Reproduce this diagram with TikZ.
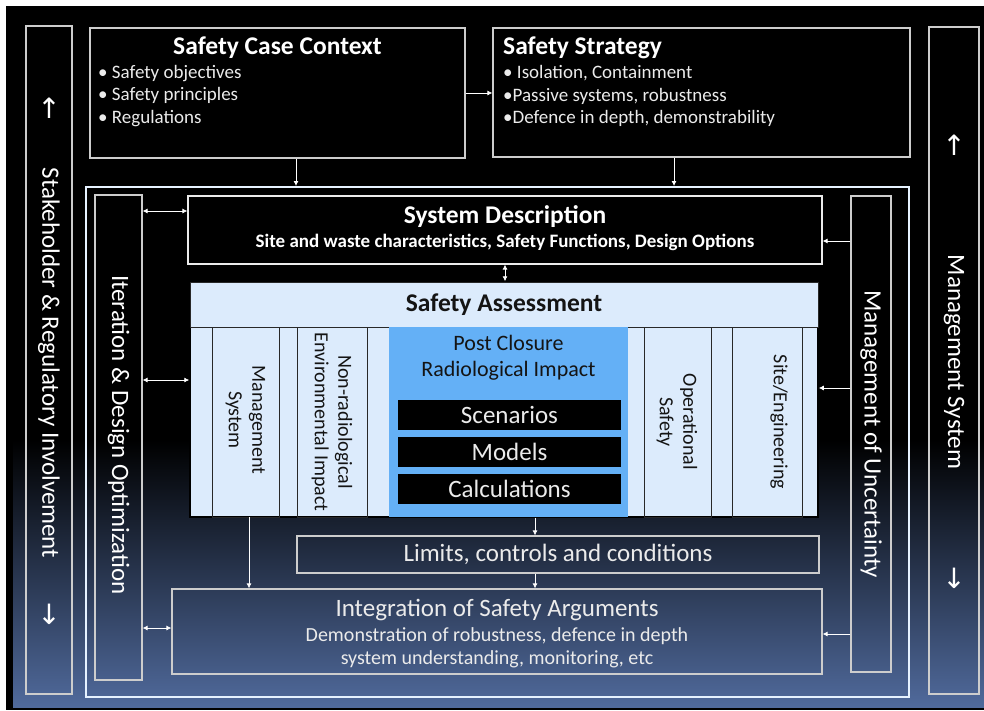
\documentclass[tikz,border=0pt]{standalone}
\usepackage{fontspec}
\setmainfont{Carlito}
\newfontfamily\arrowfont{DejaVu Sans}
\usetikzlibrary{arrows.meta}
\definecolor{bgblue}{RGB}{80,106,156}
\definecolor{saband}{RGB}{220,235,252}
\definecolor{sablue}{RGB}{100,176,246}
\definecolor{boxline}{RGB}{205,205,205}
\definecolor{frameline}{RGB}{230,242,255}
\definecolor{sepline}{RGB}{40,40,40}
\definecolor{sadark}{RGB}{20,20,20}
\definecolor{softwhite}{RGB}{235,235,235}

\begin{document}
\begin{tikzpicture}[x=1pt,y=-1pt,
    box/.style={draw=boxline, line width=1.2pt, inner sep=0pt},
    col/.style={draw=sepline, line width=0.8pt, inner sep=0pt, minimum height=190pt},
    titletext/.style={font=\fontsize{25.5}{30}\selectfont\bfseries, text=white, inner sep=0pt},
    bodytext/.style={font=\fontsize{19}{22.5}\selectfont, align=left, text=softwhite, inner sep=0pt},
    coltext/.style={font=\fontsize{25}{30}\selectfont, text=white, rotate=-90, inner sep=0pt},
    innertext/.style={font=\fontsize{20}{23.5}\selectfont, text=sadark, rotate=-90, align=center, inner sep=0pt},
    arrowtext/.style={font=\arrowfont\fontsize{28}{32}\selectfont, text=white, inner sep=0pt},
    blackbox/.style={fill=black, minimum width=223pt, minimum height=30pt, inner sep=0pt,
      font=\fontsize{25}{30}\selectfont, text=softwhite},
    arr/.style={-{Latex[length=5pt,width=5pt]}, white, line width=0.8pt},
    arrr/.style={{Latex[length=5pt,width=5pt]}-{Latex[length=5pt,width=5pt]}, white, line width=0.8pt}]

  \useasboundingbox (0,0) rectangle (984,710);
  % slide background
  \fill[white] (0,0) rectangle (984,710);
  \fill[black] (6,6) rectangle (984,710);
  \shade[top color=black, bottom color=bgblue] (13,440) rectangle (984,707);

  % outer columns
  \node[box, minimum width=46pt, minimum height=668pt] (stake) at (49,360) {};
  \node[coltext] (staketext) at (49,363) {Stakeholder \& Regulatory Involvement};
  \node[arrowtext] (stakeup) at (49,108) {↑};
  \node[arrowtext] (stakedown) at (49,614) {↓};

  \node[box, minimum width=50pt, minimum height=667pt] (mgmt) at (954,360.5) {};
  \node[coltext] (mgmttext) at (954,362) {Management System};
  \node[arrowtext] (mgmtup) at (954,145) {↑};
  \node[arrowtext] (mgmtdown) at (954,578) {↓};

  % top boxes
  \node[box, minimum width=375pt, minimum height=130pt] (scc) at (277.5,93) {};
  \node[titletext] (scctitle) at (277.5,48) {Safety Case Context};
  \node[bodytext, anchor=west] (sccbody) at (98,96)
    {• Safety objectives\\• Safety principles\\• Regulations};

  \node[box, minimum width=417pt, minimum height=129pt] (strat) at (701.5,92.5) {};
  \node[titletext, anchor=west] (strattitle) at (503,48) {Safety Strategy};
  \node[bodytext, anchor=west] (stratbody) at (503,96)
    {• Isolation, Containment\\•Passive systems, robustness\\•Defence in depth, demonstrability};

  % main frame
  \node[draw=frameline, line width=2pt, minimum width=823pt, minimum height=510pt, inner sep=0pt] (frame) at (497.5,442) {};

  \node[box, minimum width=47pt, minimum height=485pt] (iter) at (118.5,437.5) {};
  \node[coltext] (itertext) at (118.5,435) {Iteration \& Design Optimization};

  \node[box, minimum width=40pt, minimum height=476pt] (unc) at (871,434) {};
  \node[coltext] (unctext) at (871,434) {Management of Uncertainty};

  % system description
  \node[box, draw=softwhite, minimum width=634pt, minimum height=68pt] (sd) at (505,230) {};
  \node[titletext] (sdtitle) at (505,217) {System Description};
  \node[bodytext, font=\fontsize{19}{22.5}\selectfont\bfseries, text=white] (sdbody) at (505,242)
    {Site and waste characteristics, Safety Functions, Design Options};

  % safety assessment
  \node[fill=saband, draw=black, line width=1.5pt, minimum width=628pt, minimum height=235pt, inner sep=0pt] (sa) at (504,399.5) {};
  \node[fill=saband, draw=sepline, line width=0.8pt, minimum width=628pt, minimum height=45pt, inner sep=0pt] (sahead) at (504,304.5) {};
  \node[titletext, text=sadark] (satitle) at (504,305) {Safety Assessment};
  \node[fill=sablue, minimum width=239pt, minimum height=190pt, inner sep=0pt] (pcri) at (508.5,422) {};
  \node[col, minimum width=67pt] (colms) at (245.5,422) {};
  \node[col, minimum width=70pt] (colnr) at (332,422) {};
  \node[col, minimum width=67pt] (colop) at (677.5,422) {};
  \node[col, minimum width=70pt] (colsite) at (767,422) {};
  \node[innertext] (colmstext) at (245.5,420) {Management\\System};
  \node[innertext] (colnrtext) at (332,422) {Non-radiological\\Environmental Impact};
  \node[innertext] (coloptext) at (677,422) {Operational\\Safety};
  \node[innertext] (colsitetext) at (779,422) {Site/Engineering};

  \node[font=\fontsize{22}{26}\selectfont, text=sadark, align=center, inner sep=0pt] (pcritext) at (508.5,358)
    {Post Closure\\Radiological Impact};
  \node[blackbox] (scen) at (509.5,415) {Scenarios};
  \node[blackbox] (models) at (509.5,452) {Models};
  \node[blackbox] (calc) at (509.5,488.5) {Calculations};

  % limits and integration
  \node[box, minimum width=522pt, minimum height=37pt, font=\fontsize{25}{30}\selectfont, text=softwhite] (lim) at (558,554.5)
    {Limits, controls and conditions};
  \node[box, minimum width=650pt, minimum height=85pt] (integ) at (497,631.5) {};
  \node[font=\fontsize{25}{30}\selectfont, text=softwhite, inner sep=0pt] (integtitle) at (497,610)
    {Integration of Safety Arguments};
  \node[font=\fontsize{20}{23}\selectfont, text=softwhite, align=center, inner sep=0pt] (integbody) at (497,647.5)
    {Demonstration of robustness, defence in depth\\system understanding, monitoring, etc};

  % connectors
  \draw[arr] (scc.east) -- (scc.east -| strat.west);
  \draw[arr] ([xshift=18.5pt]scc.south) -- ([xshift=18.5pt]scc.south |- frame.north);
  \draw[arr] ([xshift=-27.5pt]strat.south) -- ([xshift=-27.5pt]strat.south |- frame.north);
  \draw[arrr] ([yshift=19pt]sd.west -| iter.east) -- ([yshift=19pt]sd.west);
  \draw[arr] ([yshift=-11pt]sd.east -| unc.west) -- ([yshift=-11pt]sd.east);
  \draw[arrr] (sd.south) -- (sd.south |- sa.north);
  \draw[arrr] ([yshift=19.5pt]sa.west -| iter.east) -- ([yshift=19.5pt]sa.west);
  \draw[arr] ([yshift=11.5pt]sa.east -| unc.west) -- ([yshift=11.5pt]sa.east);
  \draw[arr] ([xshift=-23pt]lim.north |- sa.south) -- ([xshift=-23pt]lim.north);
  \draw[arr] ([xshift=-23pt]lim.south) -- ([xshift=-23pt]lim.south |- integ.north);
  \draw[arr] ([xshift=3.5pt]colms.south) -- ([xshift=3.5pt]colms.south |- integ.north);
  \draw[arrr] ([yshift=3.5pt]integ.west -| iter.east) -- ([yshift=3.5pt]integ.west);
  \draw[arr] ([yshift=-2.5pt]integ.east -| unc.west) -- ([yshift=-2.5pt]integ.east);
\end{tikzpicture}
\end{document}
